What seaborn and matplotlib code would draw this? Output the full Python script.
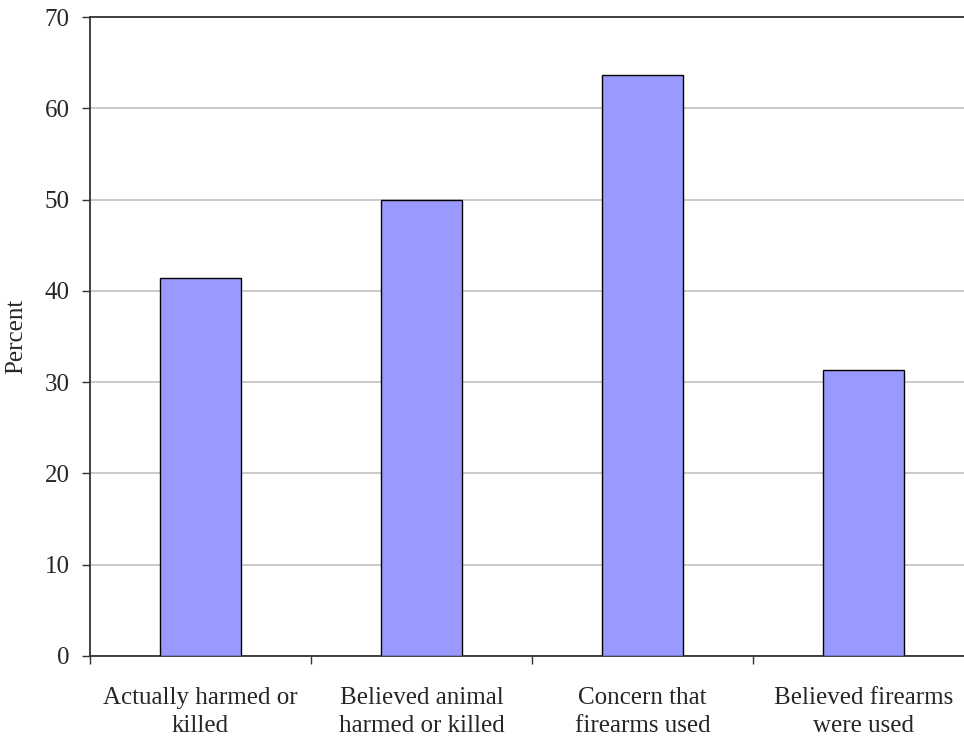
import pandas as pd
import seaborn as sns
import matplotlib.pyplot as plt
from matplotlib.ticker import FixedLocator

# chart data
categories = ["Actually harmed or\nkilled", "Believed animal\nharmed or killed",
              "Concern that\nfirearms used", "Believed firearms\nwere used"]
percent = [41.4, 50.0, 63.6, 31.3]

df = pd.DataFrame({"Category": categories, "Percent": percent})

sns.set_style("white")
plt.rcParams["font.family"] = ["Liberation Serif", "DejaVu Serif"]

fig = plt.figure(figsize=(9.64, 7.38), dpi=100)
ax = fig.add_axes([90 / 964, 1 - 656 / 738, 884 / 964, 639 / 738])

sns.barplot(data=df, x="Category", y="Percent", color="#9999ff", saturation=1,
            width=0.37, edgecolor="black", linewidth=1, ax=ax, zorder=3)

ax.set_ylim(0, 70)
ax.set_xlim(-0.5, 3.5)
ax.set_yticks(range(0, 71, 10))
ax.yaxis.grid(True, color="#c0c0c0", linewidth=1.2, zorder=0)
ax.set_axisbelow(True)

# tick marks between categories, none at the labels
ax.xaxis.set_minor_locator(FixedLocator([-0.5, 0.5, 1.5, 2.5, 3.5]))
ax.tick_params(axis="x", which="major", length=0, pad=22, labelsize=18)
ax.tick_params(axis="x", which="minor", length=6, width=1, color="#333333",
               direction="out", bottom=True)
ax.tick_params(axis="y", length=6, width=1, color="#333333", direction="out",
               labelsize=18, pad=8.5, left=True)
for lbl in ax.get_xticklabels():
    lbl.set_linespacing(1.4)

for s in ["left", "bottom", "top"]:
    ax.spines[s].set_color("#333333")
    ax.spines[s].set_linewidth(1.3)
ax.spines["right"].set_visible(False)

ax.set_xlabel("")
ax.set_ylabel("Percent", fontsize=18)
ax.yaxis.set_label_coords(-0.071, 0.5)

plt.savefig("out.png", dpi=100)
